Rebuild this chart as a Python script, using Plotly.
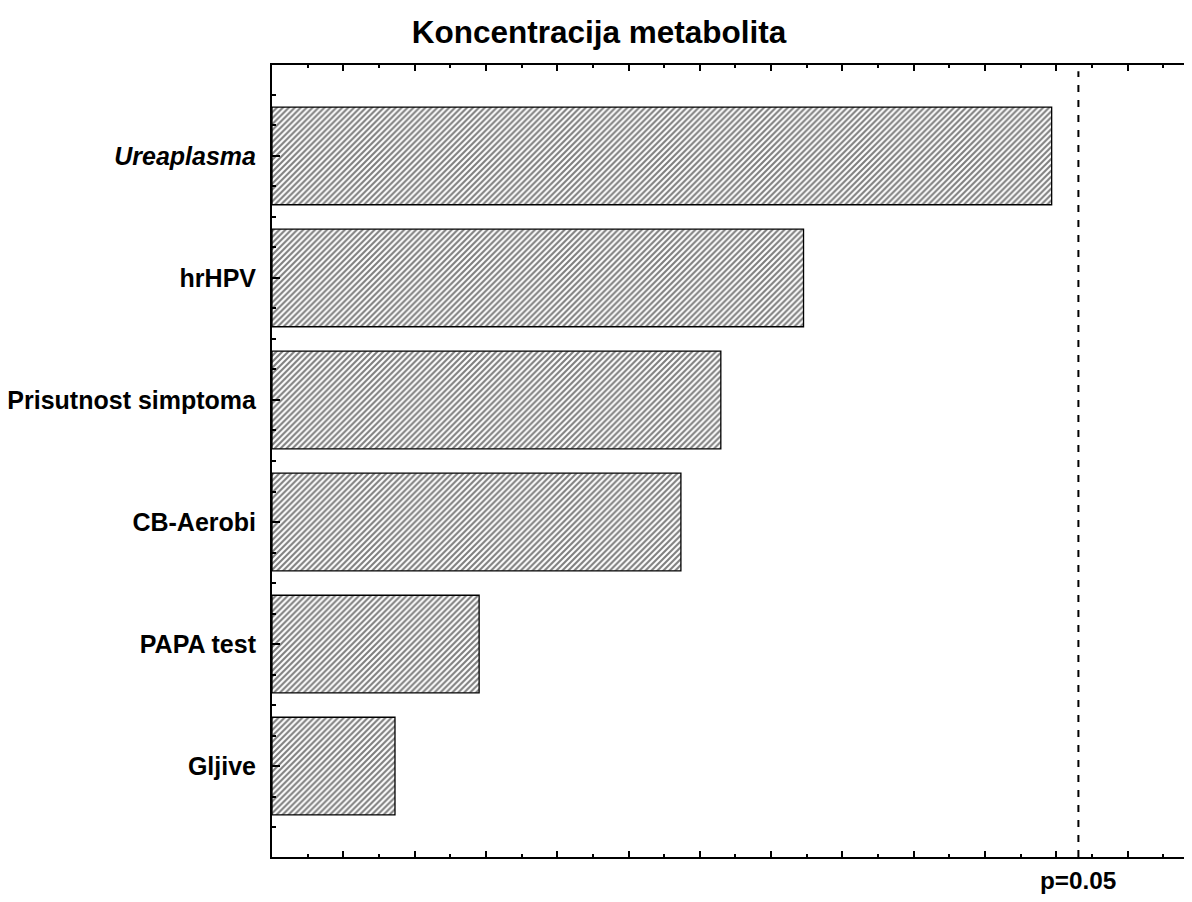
import plotly.graph_objects as go

categories = ["<i>Ureaplasma</i>", "hrHPV", "Prisutnost simptoma", "CB-Aerobi", "PAPA test", "Gljive"]
effects = [2.187, 1.491, 1.259, 1.147, 0.581, 0.345]
p_crit = 2.262
p_label = "p=0.05"
title = "Koncentracija metabolita"

FONT = "Liberation Sans, Arial, sans-serif"
positions = list(range(len(categories)))

W, H = 1176, 886
L, T, B = 264, 57, 37

fig = go.Figure()
fig.add_trace(go.Bar(
    x=effects, y=positions, orientation="h", width=0.8,
    marker=dict(
        color="white",
        line=dict(color="black", width=1.3),
        pattern=dict(shape="/", fgcolor="black", bgcolor="white", size=4.2, solidity=0.5),
    ),
    showlegend=False, hoverinfo="skip",
))

fig.add_shape(type="line", xref="x", yref="paper", x0=p_crit, x1=p_crit, y0=0, y1=0.992,
              line=dict(color="black", width=2, dash="7px,8px"))

fig.add_annotation(x=p_crit, xref="x", y=-23 / (H - T - B), yref="paper", text=p_label, showarrow=False,
                   xanchor="center", yanchor="middle",
                   font=dict(family=FONT, size=24.3, color="black", weight="bold"))

fig.update_layout(
    width=W, height=H,
    margin=dict(l=L, r=0, t=T, b=B, pad=0),
    paper_bgcolor="white", plot_bgcolor="white",
    title=dict(text=title, x=591 / W, xanchor="center", xref="container", y=1 - 24 / H, yanchor="middle",
               yref="container",
               font=dict(family=FONT, size=31.5, color="black", weight="bold")),
    font=dict(family=FONT, color="black"),
    xaxis=dict(range=[0, (W - L) / 356.5], showticklabels=False, showgrid=False, zeroline=False,
               ticks="inside", tick0=0, dtick=0.2, ticklen=6, tickwidth=2, tickcolor="black",
               minor=dict(ticks="inside", tick0=0, dtick=0.1, ticklen=3, tickwidth=2, tickcolor="black"),
               showline=True, linecolor="black", linewidth=2, mirror="ticks"),
    yaxis=dict(range=[5.745, -0.745], tickmode="array", tickvals=positions, ticktext=categories,
               showgrid=False, zeroline=False,
               ticks="inside", ticklen=8, tickwidth=2, tickcolor="black",
               minor=dict(ticks="inside", tick0=0, dtick=0.25, ticklen=4, tickwidth=2, tickcolor="black"),
               showline=True, linecolor="black", linewidth=2, mirror=False,
               ticklabelstandoff=9,
               tickfont=dict(family=FONT, size=25, color="black", weight="bold")),
)

fig.write_html("out.html")
